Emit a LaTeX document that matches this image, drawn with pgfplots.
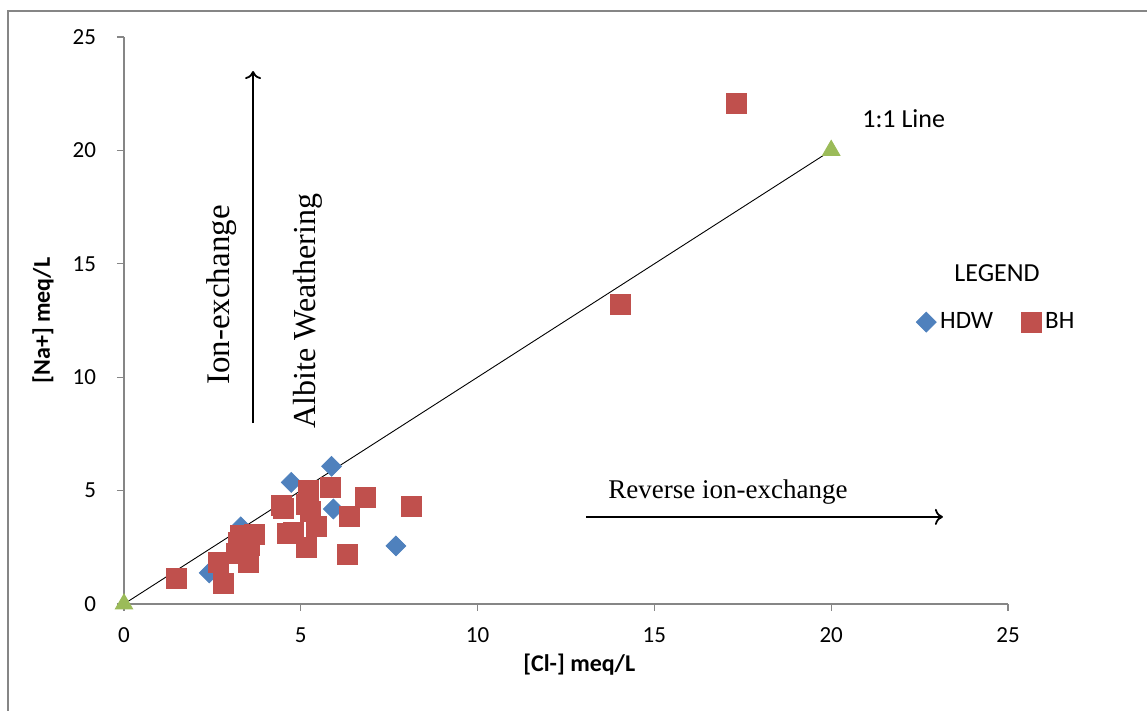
\documentclass[border=0pt]{standalone}
\usepackage{fontspec}
\setmainfont{Carlito}
\newfontfamily\tnr{Liberation Serif}
\usepackage{pgfplots}
\pgfplotsset{compat=1.18}
\usetikzlibrary{arrows.meta}
\definecolor{hdw}{HTML}{4F81BD}
\definecolor{bh}{HTML}{C0504D}
\definecolor{tri}{HTML}{9BBB59}
\definecolor{axgray}{HTML}{868686}
\begin{document}
\begin{tikzpicture}
\useasboundingbox (-62pt,-53.5pt) rectangle (511.5pt,302pt);
\draw[color=axgray, line width=1.2pt] (-58pt,-53.5pt) -- (-58pt,296.5pt) -- (511.5pt,296.5pt);
\begin{axis}[
  at={(0,0)}, anchor=south west,
  scale only axis, width=442pt, height=283.5pt,
  xmin=0, xmax=25, ymin=0, ymax=25,
  axis x line*=bottom, axis y line*=left,
  axis line style={draw=axgray, line width=0.6pt},
  xtick={0,5,...,25}, ytick={0,5,...,25},
  tick align=outside, major tick length=3.5pt,
  tick style={draw=axgray, line width=0.6pt},
  /pgf/number format/assume math mode=true,
  ticklabel style={font=\fontsize{11.5}{13}\selectfont},
  xticklabel style={yshift=-5pt},
  yticklabel style={xshift=-7pt},
  xlabel={[Cl-] meq/L}, ylabel={[Na+] meq/L},
  label style={font=\bfseries\fontsize{12}{14}\selectfont},
  xlabel style={at={(axis description cs:0.515,-0.1076)}, anchor=center},
  ylabel style={at={(axis description cs:-0.0916,0.5)}, anchor=center},
  clip=false,
  legend columns=2,
  legend style={at={(axis cs:24.7,12.43)}, anchor=center, draw=none, fill=none,
    font=\fontsize{12.5}{14}\selectfont,
    /tikz/every even column/.append style={column sep=12pt}},
]
\addplot[only marks, mark=square*, mark size=3.5pt, mark options={rotate=45}, color=hdw, fill=hdw]
  coordinates {(5.87,6.07) (4.73,5.36) (5.92,4.19) (3.30,3.40) (7.69,2.56) (2.41,1.37)};
\addlegendentry{HDW}
\addplot[only marks, mark=square*, mark size=5pt, color=bh, fill=bh]
  coordinates {
  (1.49,1.13) (2.81,0.91) (2.67,1.85) (3.52,1.84) (3.19,2.24) (3.56,2.58)
  (3.23,2.70) (3.70,3.05) (3.28,3.04) (4.46,4.35) (4.50,4.20) (5.21,5.03)
  (5.17,4.40) (5.26,4.07) (5.43,3.40) (4.62,3.12) (4.78,3.15) (5.15,2.50)
  (5.85,5.15) (6.84,4.70) (6.37,3.88) (6.33,2.20) (8.12,4.29) (14.03,13.23)
  (17.31,22.09)};
\addlegendentry{BH}
\addplot[black, line width=0.45pt, mark=triangle*, mark size=5pt,
  mark options={color=tri, fill=tri}, forget plot]
  coordinates {(0,0) (20,20)};
\node[font=\fontsize{13}{15}\selectfont] at (axis cs:22.05,21.38) {1:1 Line};
\node[font=\fontsize{13}{15}\selectfont] at (axis cs:24.69,14.59) {LEGEND};
\node[font=\tnr\fontsize{16.5}{18}\selectfont, rotate=90] at (axis cs:2.77,13.62) {Ion-exchange};
\node[font=\tnr\fontsize{16}{18}\selectfont, rotate=90] at (axis cs:5.20,12.92) {Albite Weathering};
\node[font=\tnr\fontsize{13.5}{15}\selectfont] at (axis cs:17.08,4.94) {Reverse ion-exchange};
\draw[line width=0.9pt, -{To[length=4pt,width=8pt]}] (axis cs:3.65,7.98) -- (axis cs:3.65,23.5);
\draw[line width=0.9pt, -{To[length=4pt,width=8pt]}] (axis cs:13.07,3.84) -- (axis cs:23.16,3.84);
\end{axis}
\end{tikzpicture}
\end{document}
